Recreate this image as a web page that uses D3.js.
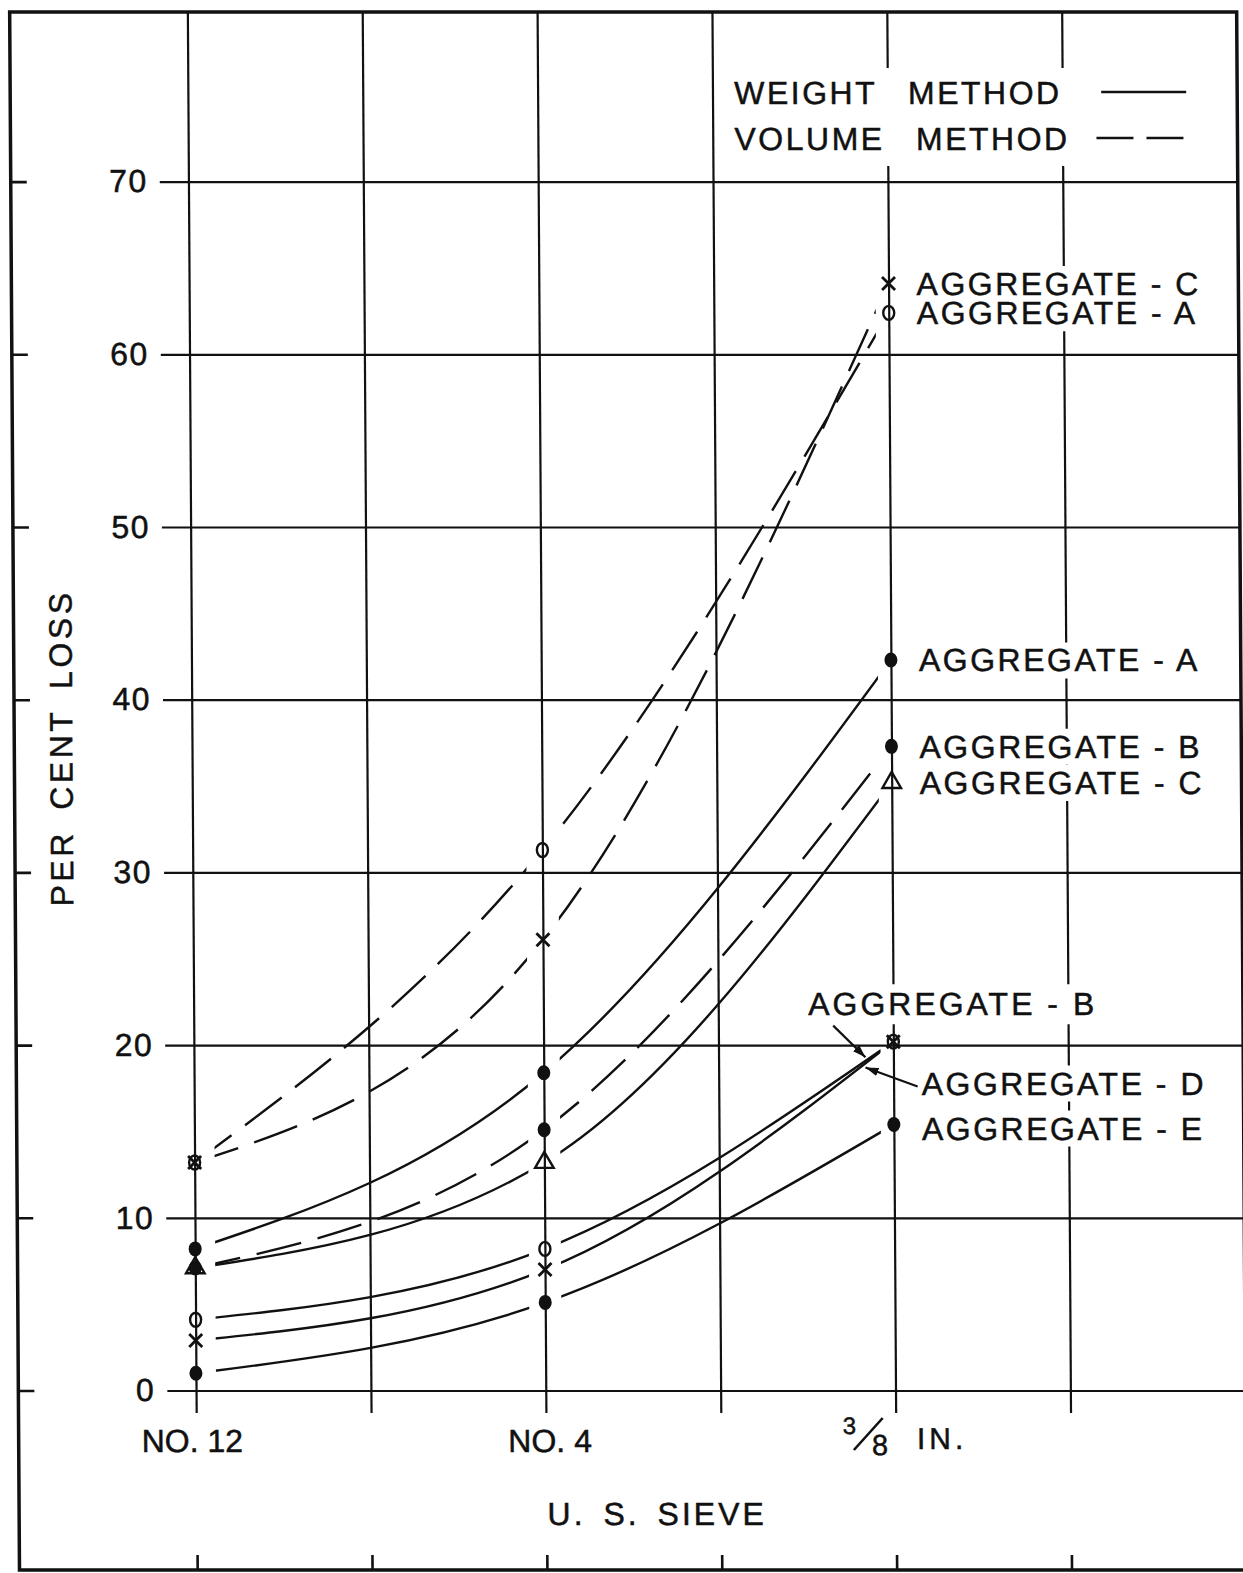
<!DOCTYPE html>
<html>
<head>
<meta charset="utf-8">
<script src="https://cdnjs.cloudflare.com/ajax/libs/d3/7.8.5/d3.min.js"></script>
<style>
body { margin: 0; background: #fff; }
text { font-family: "Liberation Sans", Arial, sans-serif; fill: #111; stroke: #111; stroke-width: 0.5px; }
</style>
</head>
<body>
<div id="chart"></div>
<script>
// sieves sit on every other line of a six-cell grid
const sieveNames = ["NO. 12", "NO. 4", "3/8 IN."];
const sieveCols = [0, 2, 4];
const gridCols = [0, 1, 2, 3, 4, 5];
const lossTicks = [0, 10, 20, 30, 40, 50, 60, 70];

// per cent loss at NO.12, NO.4, 3/8 in.
const volumeA = [13.2, 31.3, 62.4];
const volumeC = [13.2, 26.1, 64.1];
const upperA = [8.2, 18.4, 42.3];
const upperB = [7.1, 15.1, 37.3];
const upperC = [7.1, 13.2, 35.2];
const lowerB = [4.1, 8.2, 20.2];
const lowerD = [2.9, 7.0, 20.2];
const lowerE = [1.0, 5.1, 15.4];

const endLabels = ["AGGREGATE - C", "AGGREGATE - A", "AGGREGATE - A", "AGGREGATE - B",
                   "AGGREGATE - C", "AGGREGATE - D", "AGGREGATE - E"];
const endLabelLoss = [64.1, 62.4, 42.3, 37.3, 35.2, 17.8, 15.2];
const arrowLabel = "AGGREGATE - B";
const arrowLabelLoss = 22.4;
const legendNames = ["WEIGHT METHOD", "VOLUME METHOD"];

const series = [
    {values: volumeA, dashed: true,  mark: "ring"},
    {values: volumeC, dashed: true,  mark: "cross"},
    {values: upperA,  dashed: false, mark: "dot"},
    {values: upperB,  dashed: true,  mark: "dot"},
    {values: upperC,  dashed: false, mark: "tri"},
    {values: lowerB,  dashed: false, mark: "ring"},
    {values: lowerD,  dashed: false, mark: "cross"},
    {values: lowerE,  dashed: false, mark: "dot"}
];

const W = 1243, H = 1573,
    frame = {left: 14, right: 1241, top: 12, bottom: 1570},
    gridLeft = 163, gridBottom = 1413,
    ink = "#111";

createChart();

function createChart(){
    const x = d3.scaleLinear().domain([0, 6]).range([191.7, 1240.9]);
    const y = d3.scaleLinear().domain([0, 70]).range([1390.5, 181.6]);

    const svg = d3.select("#chart").append("svg")
        .attr("width", W)
        .attr("height", H);
    svg.append("rect").attr("width", W).attr("height", H).attr("fill", "#fff");

    // the scanned sheet leans a little: verticals drift right going down
    const lean = 0.0063, pivot = 700;
    const g = svg.append("g")
        .attr("transform", "translate(" + (-lean * pivot) + ",0) skewX(" + (Math.atan(lean) * 180 / Math.PI) + ")");

    g.append("defs").append("marker")
        .attr("id", "head")
        .attr("viewBox", "0 -5 12 10")
        .attr("refX", 12).attr("refY", 0)
        .attr("markerUnits", "userSpaceOnUse")
        .attr("markerWidth", 13).attr("markerHeight", 11)
        .attr("orient", "auto")
      .append("path")
        .attr("d", "M0,-4L12,0L0,4Z")
        .attr("fill", ink);

    drawGrid(g, x, y);
    drawCurves(g, x, y);
    drawLabels(g, x, y);
}

function drawGrid(g, x, y){
    g.append("path")
        .attr("d", "M" + frame.left + "," + frame.top + "H" + frame.right + "V" + frame.bottom + "H" + frame.left + "Z")
        .attr("fill", "none")
        .attr("stroke", ink)
        .attr("stroke-width", 3.5);

    g.append("g")
        .attr("class", "frame ticks")
        .attr("transform", "translate(" + frame.left + ",0)")
        .call(d3.axisRight(y).tickValues(lossTicks).tickSize(16).tickFormat(""));

    g.append("g")
        .attr("class", "frame ticks")
        .attr("transform", "translate(0," + frame.bottom + ")")
        .call(d3.axisTop(x).tickValues(gridCols).tickSize(15).tickFormat(""));

    g.append("g")
        .attr("class", "y grid")
        .attr("transform", "translate(" + gridLeft + ",0)")
        .call(d3.axisLeft(y).tickValues(lossTicks).tickSize(-(frame.right - gridLeft)).tickPadding(12));

    g.append("g")
        .attr("class", "x grid")
        .attr("transform", "translate(0," + gridBottom + ")")
        .call(d3.axisBottom(x).tickValues(gridCols).tickSize(-(gridBottom - frame.top)).tickFormat(""));

    g.selectAll(".domain").remove();
    g.selectAll(".tick line").attr("stroke", ink).attr("stroke-width", 2.2);
    g.selectAll(".tick text")
        .attr("font-size", 32)
        .attr("fill", ink)
        .attr("letter-spacing", 1.5)
        .style("font-family", "Liberation Sans, Arial, sans-serif");
    g.selectAll(".frame .tick line").attr("stroke-width", 2.6);

    // sieve names under the grid
    g.append("text")
        .attr("x", x(sieveCols[0]) - 4).attr("y", 1452)
        .attr("text-anchor", "middle").attr("font-size", 32)
        .text(sieveNames[0]);
    g.append("text")
        .attr("x", x(sieveCols[1]) + 4).attr("y", 1452)
        .attr("text-anchor", "middle").attr("font-size", 32)
        .text(sieveNames[1]);

    // 3/8 IN. is set as a built-up fraction
    var parts = sieveNames[2].split(/[/ ]/);   // 3, 8, IN.
    var fx = x(sieveCols[2]);
    g.append("text")
        .attr("x", fx - 53).attr("y", 1434)
        .attr("font-size", 24)
        .text(parts[0]);
    g.append("path")
        .attr("d", "M" + (fx - 42) + ",1450L" + (fx - 13) + ",1418")
        .attr("stroke", ink).attr("stroke-width", 2.6);
    g.append("text")
        .attr("x", fx - 24).attr("y", 1455)
        .attr("font-size", 29)
        .text(parts[1]);
    g.append("text")
        .attr("x", fx + 21).attr("y", 1449)
        .attr("font-size", 30).attr("letter-spacing", 4)
        .text(parts[2]);

    g.append("text")
        .attr("x", 652).attr("y", 1525)
        .attr("text-anchor", "middle").attr("font-size", 32)
        .attr("letter-spacing", 3).attr("word-spacing", 6)
        .text("U. S. SIEVE");

    g.append("text")
        .attr("transform", "translate(72,748) rotate(-90)")
        .attr("text-anchor", "middle").attr("font-size", 32)
        .attr("letter-spacing", 3.5).attr("word-spacing", 8)
        .text("PER CENT LOSS");
}

function drawCurves(g, x, y){
    // curves stop short of each sieve line
    var clip = g.append("clipPath").attr("id", "gaps");
    clip.append("rect")
        .attr("x", x(sieveCols[0]) + 20).attr("y", 0)
        .attr("width", x(sieveCols[1]) - x(sieveCols[0]) - 36).attr("height", H);
    clip.append("rect")
        .attr("x", x(sieveCols[1]) + 16).attr("y", 0)
        .attr("width", x(sieveCols[2]) - x(sieveCols[1]) - 29).attr("height", H);

    var line = d3.line()
        .x((d, i) => x(sieveCols[i]))
        .y(d => y(d))
        .curve(d3.curveMonotoneX);

    g.append("g").attr("clip-path", "url(#gaps)")
      .selectAll("path")
        .data(series)
      .enter().append("path")
        .attr("d", s => line(s.values))
        .attr("fill", "none")
        .attr("stroke", ink)
        .attr("stroke-width", 2.4)
        .attr("stroke-dasharray", s => s.dashed ? "46,17" : null);

    series.forEach(function(s){
        s.values.forEach(function(v, i){
            var cx = x(sieveCols[i]), cy = y(v);
            if (s.mark === "dot") {
                g.append("ellipse").attr("cx", cx).attr("cy", cy)
                    .attr("rx", 6.5).attr("ry", 7.5).attr("fill", ink);
            } else if (s.mark === "ring") {
                g.append("ellipse").attr("cx", cx).attr("cy", cy)
                    .attr("rx", 5.5).attr("ry", 7)
                    .attr("fill", "none").attr("stroke", ink).attr("stroke-width", 2.4);
            } else if (s.mark === "cross") {
                g.append("path")
                    .attr("d", "M" + (cx - 6.5) + "," + (cy - 6.5) + "L" + (cx + 6.5) + "," + (cy + 6.5) +
                               "M" + (cx + 6.5) + "," + (cy - 6.5) + "L" + (cx - 6.5) + "," + (cy + 6.5))
                    .attr("stroke", ink).attr("stroke-width", 2.8);
            } else {
                g.append("path")
                    .attr("transform", "translate(" + cx + "," + cy + ")")
                    .attr("d", d3.symbol(d3.symbolTriangle).size(150)())
                    .attr("fill", "none").attr("stroke", ink).attr("stroke-width", 2.4);
            }
        });
    });
}

function drawLabels(g, x, y){
    // white patches go underneath all label texts, so neighbours never clip each other
    var patches = g.append("g");
    var texts = g.append("g");

    function patch(t, padX, padY){
        var b = t.node().getBBox();
        patches.append("rect")
            .attr("x", b.x - padX).attr("y", b.y - padY)
            .attr("width", b.width + 2 * padX).attr("height", b.height + 2 * padY)
            .attr("fill", "#fff");
    }

    endLabels.forEach(function(t, i){
        var lab = texts.append("text")
            .attr("x", x(4) + 28).attr("y", y(endLabelLoss[i]))
            .attr("dy", "0.36em").attr("font-size", 32).attr("letter-spacing", 2.5)
            .text(t);
        patch(lab, 6, 0);
    });

    var lab = texts.append("text")
        .attr("x", x(4) - 85).attr("y", y(arrowLabelLoss))
        .attr("dy", "0.36em").attr("font-size", 32).attr("letter-spacing", 3)
        .text(arrowLabel);
    patch(lab, 6, 2);

    // leader arrows onto the ends of the two lower curves
    g.append("path")
        .attr("d", d3.line()([[x(4) - 60, y(arrowLabelLoss) + 22], [x(4) - 28, y(19.3)]]))
        .attr("stroke", ink).attr("stroke-width", 2.2).attr("marker-end", "url(#head)");
    g.append("path")
        .attr("d", d3.line()([[x(4) + 24, y(17.6)], [x(4) - 28, y(18.7)]]))
        .attr("stroke", ink).attr("stroke-width", 2.2).attr("marker-end", "url(#head)");

    // legend
    var leg = g.append("g");
    leg.append("rect")
        .attr("x", 724).attr("y", 68).attr("width", 476).attr("height", 98)
        .attr("fill", "#fff");
    legendNames.forEach(function(t, i){
        var ly = 92 + i * 46;
        leg.append("text")
            .attr("x", 738).attr("y", ly)
            .attr("dy", "0.36em").attr("font-size", 32)
            .attr("letter-spacing", 2.5).attr("word-spacing", 20)
            .text(t);
        leg.append("path")
            .attr("d", "M" + (i ? 1100 : 1105) + "," + ly + "H1190")
            .attr("stroke", ink).attr("stroke-width", 2.4)
            .attr("stroke-dasharray", i ? "37,13" : null);
    });
}
</script>
</body>
</html>
